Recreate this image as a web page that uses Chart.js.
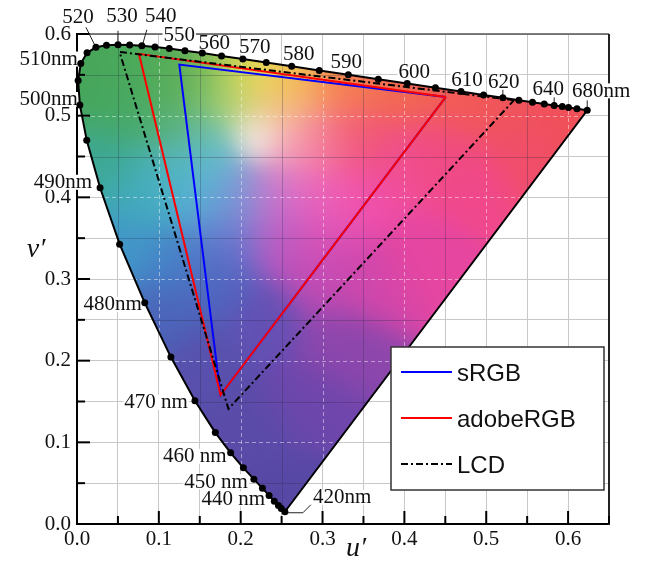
<!DOCTYPE html>
<html>
<head>
<meta charset="utf-8">
<script src="https://cdn.jsdelivr.net/npm/chart.js@4.4.1/dist/chart.umd.min.js"></script>
<style>
  body { margin: 0; background: #fff; }
</style>
</head>
<body>
<canvas id="myChart" width="646" height="562"></canvas>
<script>
// spectral locus (CIE 1976 u'v')
const wavelengths = [420,425,430,435,440,445,450,455,460,465,470,475,480,485,490,495,500,505,510,515,520,525,530,535,540,545,550,555,560,565,570,575,580,585,590,595,600,605,610,615,620,625,630,635,640,645,650,660,680];
const locusU = [0.2540,0.2496,0.2461,0.2411,0.2347,0.2266,0.2161,0.2033,0.1877,0.1690,0.1441,0.1147,0.0828,0.0521,0.0282,0.0119,0.0035,0.0014,0.0046,0.0123,0.0231,0.0360,0.0501,0.0643,0.0792,0.0953,0.1127,0.1319,0.1531,0.1766,0.2026,0.2312,0.2623,0.2960,0.3315,0.3681,0.4035,0.4379,0.4692,0.4968,0.5203,0.5399,0.5565,0.5709,0.5830,0.5929,0.6005,0.6109,0.6234];
const locusV = [0.0150,0.0191,0.0226,0.0279,0.0350,0.0437,0.0549,0.0688,0.0871,0.1119,0.1510,0.2044,0.2708,0.3427,0.4117,0.4698,0.5131,0.5432,0.5638,0.5770,0.5837,0.5861,0.5868,0.5865,0.5856,0.5841,0.5821,0.5796,0.5766,0.5732,0.5694,0.5651,0.5604,0.5554,0.5501,0.5446,0.5393,0.5342,0.5296,0.5254,0.5219,0.5190,0.5165,0.5143,0.5125,0.5111,0.5099,0.5084,0.5065];

// labelled wavelengths
const labelNm   = [420, 440, 450, 460, 470, 480, 490, 500, 510, 520, 530, 540, 550, 560, 570, 580, 590, 600, 610, 620, 640, 680];
const labelText = ['420nm','440 nm','450 nm','460 nm','470 nm','480nm','490nm','500nm','510nm','520','530','540','550','560','570','580','590','600','610','620','640','680nm'];

// gamut triangles (R, G, B, back to R)
const srgbU  = [0.4507, 0.1250, 0.1754, 0.4507];
const srgbV  = [0.5229, 0.5625, 0.1579, 0.5229];
const adobeU = [0.4507, 0.0757, 0.1754, 0.4507];
const adobeV = [0.5229, 0.5757, 0.1579, 0.5229];
const lcdU   = [0.5340, 0.0520, 0.1850, 0.5340];
const lcdV   = [0.5190, 0.5780, 0.1410, 0.5190];

const xTickLabels = ['0.0','0.1','0.2','0.3','0.4','0.5','0.6'];
const yTickLabels = ['0.0','0.1','0.2','0.3','0.4','0.5','0.6'];

const ctx = document.getElementById('myChart').getContext('2d');

const toPts = (us, vs) => us.map((u, i) => ({x: u, y: vs[i]}));

function tickText(labels) {
    return function(v) {
        const k = Math.round(v * 10);
        if (Math.abs(v * 10 - k) > 1e-6) return '';
        return labels[k] !== undefined ? labels[k] : '';
    };
}

const isMajor = v => Math.abs(v * 10 - Math.round(v * 10)) < 1e-6;

// colours: [u', v', r, g, b, (sigma)]
const colourAnchors = [
    [0.02,0.55, 70,165,90], [0.07,0.565, 75,170,90], [0.12,0.55, 85,172,88],
    [0.06,0.50, 70,168,100], [0.12,0.49, 90,175,110], [0.16,0.55, 115,182,88],
    [0.21,0.56, 232,228,75], [0.235,0.55, 242,208,78], [0.27,0.54, 245,170,78],
    [0.33,0.535, 245,125,80], [0.19,0.52, 175,215,120], [0.24,0.51, 245,200,150],
    [0.40,0.53, 242,105,80], [0.46,0.52, 242,92,85], [0.52,0.51, 240,85,88],
    [0.60,0.505, 240,80,88],
    [0.22,0.477, 255,255,255, 0.02],
    [0.30,0.47, 245,115,145], [0.26,0.47, 245,170,195], [0.35,0.47, 240,85,115],
    [0.16,0.46, 100,190,205], [0.15,0.40, 85,178,215], [0.20,0.40, 130,150,215],
    [0.25,0.40, 215,115,205], [0.30,0.40, 240,100,185], [0.35,0.40, 240,78,170],
    [0.18,0.35, 100,115,205], [0.25,0.35, 180,90,195], [0.30,0.35, 222,78,180],
    [0.04,0.44, 60,168,150], [0.08,0.40, 65,170,190], [0.11,0.43, 80,180,195],
    [0.06,0.34, 65,150,200], [0.12,0.32, 70,130,200],
    [0.11,0.26, 75,100,185], [0.17,0.29, 80,100,190],
    [0.16,0.20, 88,80,172], [0.22,0.12, 90,75,168], [0.25,0.04, 88,72,165],
    [0.23,0.25, 100,80,180], [0.28,0.15, 110,70,172], [0.32,0.22, 140,70,172],
    [0.30,0.30, 190,75,180], [0.36,0.30, 210,70,170], [0.42,0.33, 230,70,160],
    [0.48,0.42, 240,72,140], [0.44,0.46, 240,75,125], [0.54,0.46, 240,78,105],
    [0.40,0.44, 240,78,150]
];

// label placement relative to the locus point
const labelStyle = {
    420: {dx: 28, dy: -15, align: 'left', leader: [[2,1],[18,1],[26,-7]]},
    440: {dx: -4, dy: 3, align: 'right'},
    450: {dx: -6, dy: 2, align: 'right'},
    460: {dx: -4, dy: 3, align: 'right'},
    470: {dx: -7, dy: 1, align: 'right'},
    480: {dx: -3, dy: 1, align: 'right'},
    490: {dx: -8, dy: -6, align: 'right'},
    500: {dx: -2, dy: -6, align: 'right'},
    510: {dx: -3, dy: -5, align: 'right'},
    520: {dx: -18, dy: -31, align: 'center', leader: [[-10,-20],[-1,-2]]},
    530: {dx: 4, dy: -29, align: 'center', leader: [[0,-14],[0,-2]]},
    540: {dx: 19, dy: -30, align: 'center', leader: [[5,-16],[1,-2]]},
    550: {dx: 10, dy: -14, align: 'center'},
    560: {dx: 12, dy: -11, align: 'center'},
    570: {dx: 12, dy: -13, align: 'center'},
    580: {dx: 7, dy: -13, align: 'center'},
    590: {dx: -2, dy: -13, align: 'center'},
    600: {dx: 7, dy: -12, align: 'center'},
    610: {dx: 6, dy: -12, align: 'center'},
    620: {dx: 1, dy: -16, align: 'center', leader: [[0,-8],[0,-1]]},
    640: {dx: -6, dy: -17, align: 'center', leader: [[0,-8],[0,-1]]},
    680: {dx: 14, dy: -20, align: 'center', leader: [[0,-10],[0,-1]]}
};

const diagramPlugin = {
    id: 'diagram',
    beforeDatasetsDraw(chart) {
        const c = chart.ctx;
        const a = chart.chartArea;
        const xs = chart.scales.x, ys = chart.scales.y;
        const w = Math.round(a.right - a.left), h = Math.round(a.bottom - a.top);

        if (!chart.$fill || chart.$fill.width !== w || chart.$fill.height !== h) {
            const off = document.createElement('canvas');
            off.width = w; off.height = h;
            const octx = off.getContext('2d');
            const img = octx.createImageData(w, h);
            const sig = colourAnchors.map(p => { const s = p[5] || 0.03; return 2 * s * s; });
            for (let j = 0; j < h; j++) {
                const v = ys.getValueForPixel(a.top + j + 0.5);
                for (let i = 0; i < w; i++) {
                    const u = xs.getValueForPixel(a.left + i + 0.5);
                    let sw = 0, r = 0, g = 0, b = 0;
                    colourAnchors.forEach((p, n) => {
                        const du = u - p[0], dv = v - p[1];
                        const wt = Math.exp(-(du * du + dv * dv) / sig[n]) + 1e-12;
                        sw += wt; r += wt * p[2]; g += wt * p[3]; b += wt * p[4];
                    });
                    const k = (j * w + i) * 4;
                    img.data[k] = r / sw; img.data[k + 1] = g / sw; img.data[k + 2] = b / sw; img.data[k + 3] = 255;
                }
            }
            octx.putImageData(img, 0, 0);
            chart.$fill = off;
        }

        // colour field clipped to the locus
        c.save();
        c.beginPath();
        locusU.forEach((u, i) => {
            const px = xs.getPixelForValue(u), py = ys.getPixelForValue(locusV[i]);
            if (i) c.lineTo(px, py); else c.moveTo(px, py);
        });
        c.closePath();
        c.clip();
        c.drawImage(chart.$fill, a.left, a.top);
        c.lineWidth = 1;
        const gridOver = (px1, py1, px2, py2, major) => {
            c.beginPath();
            c.setLineDash(major ? [4, 3] : []);
            c.strokeStyle = major ? 'rgba(255,255,255,0.45)' : 'rgba(40,40,70,0.28)';
            c.moveTo(px1, py1); c.lineTo(px2, py2); c.stroke();
        };
        xs.ticks.forEach(t => {
            const px = Math.round(xs.getPixelForValue(t.value)) + 0.5;
            gridOver(px, a.top, px, a.bottom, isMajor(t.value));
        });
        ys.ticks.forEach(t => {
            const py = Math.round(ys.getPixelForValue(t.value)) + 0.5;
            gridOver(a.left, py, a.right, py, isMajor(t.value));
        });
        c.restore();

        // frame top / right
        c.save();
        c.strokeStyle = '#555';
        c.lineWidth = 1.5;
        c.beginPath(); c.moveTo(a.left, a.top); c.lineTo(a.right, a.top); c.stroke();
        c.strokeStyle = '#222';
        c.lineWidth = 2;
        c.beginPath(); c.moveTo(a.right, a.top); c.lineTo(a.right, a.bottom + 1); c.stroke();

        // inward tick marks
        c.strokeStyle = '#000';
        c.lineWidth = 2;
        xs.ticks.forEach(t => {
            const px = xs.getPixelForValue(t.value);
            c.beginPath(); c.moveTo(px, a.bottom); c.lineTo(px, a.bottom - (isMajor(t.value) ? 13 : 8)); c.stroke();
        });
        ys.ticks.forEach(t => {
            const py = ys.getPixelForValue(t.value);
            c.beginPath(); c.moveTo(a.left, py); c.lineTo(a.left + (isMajor(t.value) ? 13 : 8), py); c.stroke();
        });

        // wavelength labels
        c.font = '21px "Liberation Serif"';
        c.textBaseline = 'middle';
        labelNm.forEach((nm, i) => {
            const k = wavelengths.indexOf(nm);
            const st = labelStyle[nm];
            const px = xs.getPixelForValue(locusU[k]), py = ys.getPixelForValue(locusV[k]);
            const tx = px + st.dx, ty = py + st.dy;
            const tw = c.measureText(labelText[i]).width;
            const left = st.align === 'left' ? tx : st.align === 'right' ? tx - tw : tx - tw / 2;
            c.fillStyle = '#fff';
            c.fillRect(left - 1, ty - 7, tw + 2, 15);
            c.fillStyle = '#111';
            c.textAlign = st.align;
            c.fillText(labelText[i], tx, ty + 1);
            if (st.leader) {
                c.strokeStyle = '#222';
                c.lineWidth = 1;
                c.beginPath();
                st.leader.forEach((p, j) => {
                    if (j) c.lineTo(px + p[0], py + p[1]); else c.moveTo(px + p[0], py + p[1]);
                });
                c.stroke();
            }
        });
        c.restore();
    },
    afterDraw(chart) {
        const c = chart.ctx;
        c.save();
        // axis titles
        c.fillStyle = '#111';
        c.font = 'italic 28px "Liberation Serif"';
        c.textAlign = 'center';
        c.textBaseline = 'middle';
        c.fillText('u\u2032', 356, 549);
        c.fillText('v\u2032', 36, 250);

        // legend
        const bx = 391, by = 347, bw = 213, bh = 143;
        c.fillStyle = '#fff';
        c.fillRect(bx, by, bw, bh);
        c.strokeStyle = '#333';
        c.lineWidth = 1.5;
        c.strokeRect(bx, by, bw, bh);
        c.font = '24px "Liberation Sans"';
        c.textAlign = 'left';
        [1, 2, 3].forEach((di, r) => {
            const ds = chart.data.datasets[di];
            const ly = by + 25 + r * 46;
            c.strokeStyle = ds.borderColor;
            c.lineWidth = 2;
            c.setLineDash(ds.borderDash || []);
            c.beginPath(); c.moveTo(bx + 10, ly); c.lineTo(bx + 61, ly); c.stroke();
            c.setLineDash([]);
            c.fillStyle = '#111';
            c.fillText(ds.label, bx + 66, ly + 2);
        });
        c.restore();
    }
};

const myChart = new Chart(ctx, {
    type: 'scatter',
    data: {
        datasets: [{
            label: 'locus',
            data: toPts(locusU.concat(locusU[0]), locusV.concat(locusV[0])),
            showLine: true,
            borderColor: '#000',
            borderWidth: 2,
            pointRadius: c => c.dataIndex === locusU.length ? 0 : 3.5,
            pointBackgroundColor: '#000',
            pointBorderWidth: 0,
            clip: 6,
            order: 1
        }, {
            label: 'sRGB',
            data: toPts(srgbU, srgbV),
            showLine: true,
            borderColor: '#0000ff',
            borderWidth: 2,
            pointRadius: 0,
            order: 4
        }, {
            label: 'adobeRGB',
            data: toPts(adobeU, adobeV),
            showLine: true,
            borderColor: '#ff0000',
            borderWidth: 2,
            pointRadius: 0,
            order: 3
        }, {
            label: 'LCD',
            data: toPts(lcdU, lcdV),
            showLine: true,
            borderColor: '#000',
            borderWidth: 2,
            borderDash: [7, 3, 2, 3],
            pointRadius: 0,
            order: 2
        }]
    },
    options: {
        responsive: false,
        animation: false,
        layout: { padding: { left: 0, right: 37, top: 34, bottom: 0 } },
        plugins: { legend: { display: false }, tooltip: { enabled: false } },
        scales: {
            x: {
                type: 'linear',
                min: 0,
                max: 0.65,
                afterFit: s => { s.height = 38; },
                ticks: {
                    stepSize: 0.05,
                    autoSkip: false,
                    maxRotation: 0,
                    padding: 3,
                    color: '#111',
                    font: { family: '"Liberation Serif"', size: 21 },
                    callback: tickText(xTickLabels)
                },
                grid: { color: '#c8c8c8', lineWidth: 1, drawTicks: false },
                border: { color: '#000', width: 2 }
            },
            y: {
                type: 'linear',
                min: 0,
                max: 0.6,
                afterFit: s => { s.width = 77; },
                ticks: {
                    stepSize: 0.05,
                    autoSkip: false,
                    padding: 6,
                    color: '#111',
                    font: { family: '"Liberation Serif"', size: 21 },
                    callback: tickText(yTickLabels)
                },
                grid: { color: '#c8c8c8', lineWidth: 1, drawTicks: false },
                border: { color: '#000', width: 2 }
            }
        }
    },
    plugins: [diagramPlugin]
});
</script>
</body>
</html>
